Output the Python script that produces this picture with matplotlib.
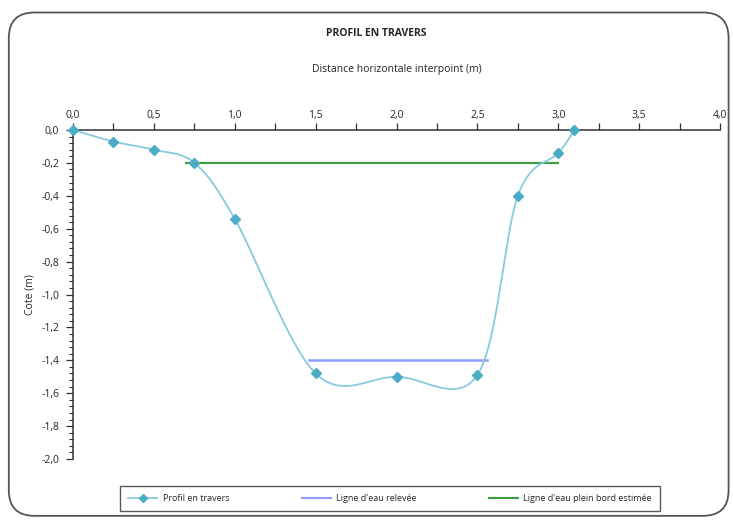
import numpy as np
import matplotlib
matplotlib.use("Agg")
import matplotlib.pyplot as plt
from matplotlib.patches import FancyBboxPatch
from matplotlib.ticker import MultipleLocator, FuncFormatter
from matplotlib.lines import Line2D

# Cross-section survey data
distance = [0.0, 0.25, 0.5, 0.75, 1.0, 1.5, 2.0, 2.5, 2.75, 3.0, 3.1]
cote = [0.0, -0.07, -0.12, -0.20, -0.54, -1.48, -1.50, -1.49, -0.40, -0.14, 0.0]

# Measured water line
eau_x = [1.46, 2.56]
eau_y = [-1.40, -1.40]

# Estimated bankfull water line
plein_x = [0.70, 3.0]
plein_y = [-0.20, -0.20]

x_ticks = [0.0, 0.5, 1.0, 1.5, 2.0, 2.5, 3.0, 3.5, 4.0]
y_ticks = [0.0, -0.2, -0.4, -0.6, -0.8, -1.0, -1.2, -1.4, -1.6, -1.8, -2.0]

FONT = "Open Sans"
TXT = "#262626"
C_PROFIL = "#4BACC6"
C_PROFIL_LINE = "#86CBDC"
C_EAU = "#8C9CFF"
C_PLEIN = "#3E9F3E"


def smooth_curve(xs, ys, n=30):
    """Bezier smoothing through every point (Catmull-Rom style control points)."""
    p = np.column_stack([xs, ys]).astype(float)
    pts = np.vstack([p[0], p, p[-1]])
    out = []
    t = np.linspace(0, 1, n)[:, None]
    for i in range(1, len(pts) - 2):
        p0, p1, p2, p3 = pts[i - 1], pts[i], pts[i + 1], pts[i + 2]
        c1 = p1 + (p2 - p0) / 6.0
        c2 = p2 - (p3 - p1) / 6.0
        seg = ((1 - t) ** 3) * p1 + 3 * ((1 - t) ** 2) * t * c1 + 3 * (1 - t) * t ** 2 * c2 + t ** 3 * p2
        out.append(seg if i == 1 else seg[1:])
    arr = np.vstack(out)
    return arr[:, 0], arr[:, 1]


fig = plt.figure(figsize=(7.33, 5.2), dpi=100)

# Rounded chart frame (behind everything)
frame = FancyBboxPatch((0.012, 0.008), 0.982, 0.968, transform=fig.transFigure,
                       boxstyle="round,pad=0,rounding_size=0.035",
                       facecolor="white", edgecolor="#555555", linewidth=1.3,
                       mutation_aspect=733 / 520, zorder=-10)
fig.patches.append(frame)

ax = fig.add_axes([0.0996, 0.1173, 0.8827, 0.6327])
ax.set_zorder(5)
ax.set_facecolor("none")

sx, sy = smooth_curve(distance, cote)
ax.plot(sx, sy, color=C_PROFIL_LINE, lw=1.3, clip_on=False, zorder=3)
ax.plot(distance, cote, linestyle="none", marker="D", ms=5.5, color=C_PROFIL,
        markeredgecolor=C_PROFIL, clip_on=False, zorder=4)
ax.plot(eau_x, eau_y, color=C_EAU, lw=1.8, zorder=2)
ax.plot(plein_x, plein_y, color=C_PLEIN, lw=1.5, zorder=2)

ax.set_xlim(0, 4.0)
ax.set_ylim(-2.0, 0.0)

ax.xaxis.set_ticks_position("top")
ax.xaxis.set_label_position("top")
ax.set_xticks(x_ticks)
ax.xaxis.set_minor_locator(MultipleLocator(0.25))
ax.set_yticks(y_ticks)
ax.yaxis.set_minor_locator(MultipleLocator(0.04))

fmt = FuncFormatter(lambda v, pos: f"{v:.1f}".replace(".", ",").replace("-0,0", "0,0"))
ax.xaxis.set_major_formatter(fmt)
ax.yaxis.set_major_formatter(fmt)

for s in ["bottom", "right"]:
    ax.spines[s].set_visible(False)
for s in ["top", "left"]:
    ax.spines[s].set_color("#303030")
    ax.spines[s].set_linewidth(1.1)

ax.tick_params(axis="x", which="both", direction="out", length=5, width=0.9,
               color="#303030", pad=1.5, labelsize=7.5, labelcolor=TXT)
ax.tick_params(axis="y", which="major", direction="out", length=5, width=0.9,
               color="#303030", pad=5, labelsize=7.5, labelcolor=TXT)
ax.tick_params(axis="y", which="minor", direction="out", length=3, width=0.8,
               color="#303030")
for lab in ax.get_xticklabels() + ax.get_yticklabels():
    lab.set_fontfamily(FONT)

ax.set_xlabel("Distance horizontale interpoint (m)", fontsize=7.5, family=FONT,
              color=TXT, labelpad=27)
ax.set_ylabel("Cote (m)", fontsize=7.5, family=FONT, color=TXT, labelpad=4)

fig.text(0.513, 0.936, "PROFIL EN TRAVERS", ha="center", va="center",
         fontsize=7.5, fontweight="bold", family=FONT, color=TXT)

handles = [
    Line2D([], [], color=C_PROFIL_LINE, lw=1.3, marker="D", ms=4,
           markerfacecolor=C_PROFIL, markeredgecolor=C_PROFIL),
    Line2D([], [], color=C_EAU, lw=1.5),
    Line2D([], [], color=C_PLEIN, lw=1.5),
]
labels = ["Profil en travers", "Ligne d'eau relevée", "Ligne d'eau plein bord estimée"]
leg = fig.legend(handles, labels, loc="center", bbox_to_anchor=(0.532, 0.042),
                 ncol=3, frameon=True, fancybox=False, edgecolor="#303030",
                 prop={"family": FONT, "size": 6.5}, handlelength=3.2,
                 columnspacing=8.0, borderpad=0.9, handletextpad=0.6,
                 borderaxespad=0)
leg.get_frame().set_linewidth(1.0)
for t in leg.get_texts():
    t.set_color(TXT)

fig.savefig("out.png", dpi=100)
